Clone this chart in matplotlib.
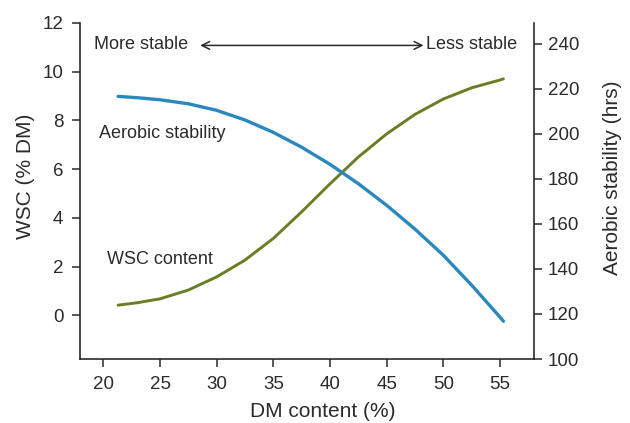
import matplotlib
matplotlib.use("Agg")
import matplotlib.pyplot as plt

plt.rcParams['font.family'] = ['Liberation Sans', 'DejaVu Sans']

# DM content (%) and readings
dm = [21.3, 23, 25, 27.5, 30, 32.5, 35, 37.5, 40, 42.5, 45, 47.5, 50, 52.5, 55, 55.3]
stability = [216.7, 216.1, 215.2, 213.4, 210.5, 206.2, 200.7, 194.1, 186.5, 177.9,
             168.3, 157.7, 146.1, 132.8, 118.6, 116.8]
wsc = [0.42, 0.52, 0.68, 1.04, 1.58, 2.27, 3.16, 4.25, 5.4, 6.5,
       7.45, 8.25, 8.88, 9.34, 9.66, 9.71]

x_ticks = [20, 25, 30, 35, 40, 45, 50, 55]
wsc_ticks = [0, 2, 4, 6, 8, 10, 12]
stab_ticks = [100, 120, 140, 160, 180, 200, 220, 240]

blue = '#2a88bf'
green = '#6b7d24'
ink = '#2b2b2b'

fig = plt.figure(figsize=(6.3, 4.23), dpi=100)
ax = fig.add_axes([80 / 630, 64 / 423, 454 / 630, 336 / 423])
ax2 = ax.twinx()

ax.plot(dm, wsc, color=green, lw=2.1, solid_capstyle='round', zorder=3)
ax2.plot(dm, stability, color=blue, lw=2.4, solid_capstyle='round', zorder=3)

ax.set_xlim(17.94, 58)
ax.set_ylim(-1.79, 12)
ax2.set_ylim(100, 249.3)
ax.set_xticks(x_ticks)
ax.set_yticks(wsc_ticks)
ax2.set_yticks(stab_ticks)

for a in (ax, ax2):
    a.spines['top'].set_visible(False)
    for s in a.spines.values():
        s.set_color(ink)
        s.set_linewidth(1.2)
    a.tick_params(direction='out', length=6, width=1.1, color=ink,
                  labelsize=13.5, labelcolor=ink)
ax.spines['right'].set_visible(False)
ax2.spines['left'].set_visible(False)
ax2.spines['bottom'].set_visible(False)
ax.tick_params(axis='y', pad=6)
ax.tick_params(axis='x', pad=6.5)
ax2.tick_params(axis='y', pad=4)

ax.set_xlabel('DM content (%)', fontsize=15, color=ink)
ax.set_ylabel('WSC (% DM)', fontsize=15, color=ink)
ax2.set_ylabel('Aerobic stability (hrs)', fontsize=15, color=ink)
ax.xaxis.set_label_coords(0.534, -0.128)
ax.yaxis.set_label_coords(-0.099, 0.543)
ax2.yaxis.set_label_coords(1.153, 0.539)

ax.text(19.18, 11.1, 'More stable', fontsize=13, color=ink, ha='left', va='center')
ax.text(56.5, 11.1, 'Less stable', fontsize=13, color=ink, ha='right', va='center')
ax.annotate('', xy=(28.3, 11.08), xytext=(48.5, 11.08),
            arrowprops=dict(arrowstyle='<->', color=ink, lw=1.1, mutation_scale=14))
ax.text(19.65, 7.47, 'Aerobic stability', fontsize=13, color=ink, ha='left', va='center')
ax.text(20.3, 2.31, 'WSC content', fontsize=13, color=ink, ha='left', va='center')

fig.savefig('out.png', dpi=100)
